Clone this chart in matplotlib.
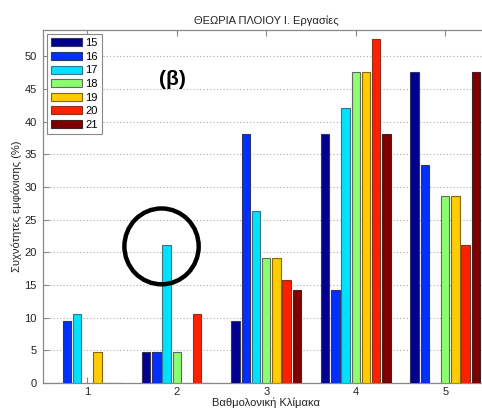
import matplotlib
matplotlib.use("Agg")
import matplotlib.pyplot as plt
from matplotlib.patches import Ellipse
import numpy as np

plt.rcParams['font.family'] = ['Liberation Sans', 'DejaVu Sans']

categories = [1, 2, 3, 4, 5]
series_names = ['15', '16', '17', '18', '19', '20', '21']
values = {
    '15': [0.0, 4.76, 9.52, 38.1, 47.6],
    '16': [9.52, 4.76, 38.1, 14.3, 33.3],
    '17': [10.53, 21.05, 26.3, 42.1, 0.0],
    '18': [0.0, 4.76, 19.05, 47.6, 28.6],
    '19': [4.76, 0.0, 19.05, 47.6, 28.6],
    '20': [0.0, 10.53, 15.8, 52.6, 21.05],
    '21': [0.0, 0.0, 14.3, 38.1, 47.6],
}
colors = ['#00008f', '#0030ff', '#00e0ff', '#8cff70', '#ffcc00', '#ff2000', '#7f0000']
edgecolors = ['#333366', '#333366', '#337788', '#666666', '#886600', '#883322', '#442222']

title = 'ΘΕΩΡΙΑ ΠΛΟΙΟΥ Ι. Εργασίες'
xlabel = 'Βαθμολονική Κλίμακα'
ylabel = 'Συχνότητες εμφάνισης (%)'

fig = plt.figure(figsize=(4.82, 4.09), dpi=100)
W, H = 482, 409
x0 = 42.5
x1 = 42.5 + 5 * 89.5
y_bot = 383
y_top = 30
ax = fig.add_axes([x0 / W, (H - y_bot) / H, (x1 - x0) / W, (y_bot - y_top) / H])

x = np.array(categories, dtype=float)
step = 0.114
bw = 0.093
for i, name in enumerate(series_names):
    ax.bar(x + (i - 3) * step, values[name], width=bw, color=colors[i],
           edgecolor=edgecolors[i], linewidth=0.8, label=name, zorder=3)

ax.set_xlim(0.5, 5.5)
ax.set_ylim(0, 54)
ax.set_xticks(categories)
ax.set_yticks(np.arange(0, 51, 5))
ax.yaxis.grid(True, linestyle=(0, (1, 2)), color='#aaaaaa', linewidth=0.8, zorder=0)
ax.tick_params(direction='in', length=4, top=True, right=True, labelsize=8,
               color='#888888', labelcolor='#222222')
ax.tick_params(axis='x', pad=3)
ax.tick_params(axis='y', pad=4)
for s in ax.spines.values():
    s.set_color('#888888')
    s.set_linewidth(0.9)

ax.set_title(title, fontsize=8, pad=4, color='#222222')
ax.set_xlabel(xlabel, fontsize=8, labelpad=0, color='#222222')
ax.set_ylabel(ylabel, fontsize=8, labelpad=2, color='#222222')

leg = ax.legend(loc='upper left', fontsize=8, handlelength=2.8, handleheight=0.72,
                labelspacing=0.32, handletextpad=0.3, borderpad=0.35,
                borderaxespad=0.4, fancybox=False, framealpha=1,
                edgecolor='#888888')
leg.get_frame().set_linewidth(0.8)

ax.text(1.95, 46.5, '(β)', fontsize=15, fontweight='bold', ha='center', va='center')

ell = Ellipse((1.83, 20.9), width=0.83, height=11.6, fill=False,
              edgecolor='black', linewidth=3.2, zorder=5)
ax.add_patch(ell)

fig.savefig('out.png', dpi=100)
